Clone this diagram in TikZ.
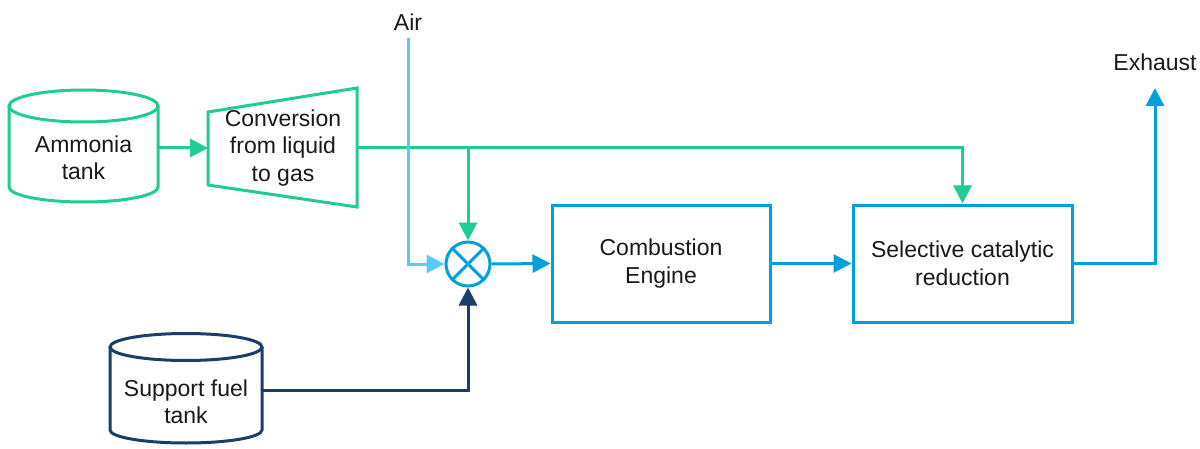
\documentclass[tikz,border=0pt]{standalone}
\usepackage{fontspec}
\setmainfont{Liberation Sans}
\usetikzlibrary{arrows.meta}
\definecolor{cgreen}{RGB}{30,204,148}
\definecolor{cblue}{RGB}{0,160,219}
\definecolor{clight}{RGB}{90,200,250}
\definecolor{cnavy}{RGB}{27,62,105}
\begin{document}
\begin{tikzpicture}[x=1pt,y=1pt,
  lbl/.style={align=center,font=\fontsize{23}{27.5}\selectfont,text=black!90},
  shp/.style={line width=3pt,line join=miter},
  arr/.style={line width=3pt,-{Triangle[length=18pt,width=18pt]}},
  box/.style={draw=cblue,line width=3pt,minimum height=117pt,lbl}
]
\useasboundingbox (0,0) rectangle (1200,448);

% Ammonia tank
\draw[shp,cgreen,fill=white] (9,342) -- (9,261) arc[start angle=180,end angle=360,x radius=74.5,y radius=15] -- (158,342);
\draw[shp,cgreen] (83.5,342) ellipse [x radius=74.5,y radius=16];
\node[lbl] (amm) at (83.5,290) {Ammonia\\tank};
\coordinate (ammE) at (158,300);

% Conversion trapezoid
\draw[shp,cgreen] (208,336) -- (357,360) -- (357,241) -- (208,263) -- cycle;
\node[lbl] (conv) at (283,300) {Conversion\\from liquid\\to gas};
\coordinate (convW) at (208,300);
\coordinate (convE) at (357,300);

% Support fuel tank
\draw[shp,cnavy,fill=white] (110,101) -- (110,18) arc[start angle=180,end angle=360,x radius=76,y radius=13] -- (262,101);
\draw[shp,cnavy] (186,101) ellipse [x radius=76,y radius=13.5];
\node[lbl] (sup) at (186,46) {Support fuel\\tank};
\coordinate (supE) at (262,58);

% Mixer
\node[circle,draw=cblue,line width=3pt,minimum size=44pt,inner sep=0pt] (mix) at (468,184) {};
\draw[cblue,line width=3pt] (mix.45) -- (mix.225) (mix.135) -- (mix.315);

% Boxes
\node[box,minimum width=218pt] (ce) at (661,184.5) {Combustion\\Engine};
\node[box,minimum width=219pt] (scr) at (962.5,184.5) {Selective catalytic\\reduction};

% Labels
\node[lbl] (air) at (408,426) {Air};
\coordinate (airS) at (408,410);
\node[lbl] (exh) at (1155,386) {Exhaust};
\coordinate (exhT) at (1155,360);

% Connectors
\draw[arr,cgreen] (ammE) -- (convW);
\draw[arr,cgreen] (convE) -| (scr.north);
\draw[arr,cgreen] (mix.north |- convE) -- (mix.north);
\draw[arr,clight] (airS) |- (mix.west);
\draw[arr,cnavy] (supE) -| (mix.south);
\draw[arr,cblue] (mix.east) -- (ce.west);
\draw[arr,cblue] (ce.east) -- (scr.west);
\draw[arr,cblue] (scr.east) -| (exhT);
\end{tikzpicture}
\end{document}
